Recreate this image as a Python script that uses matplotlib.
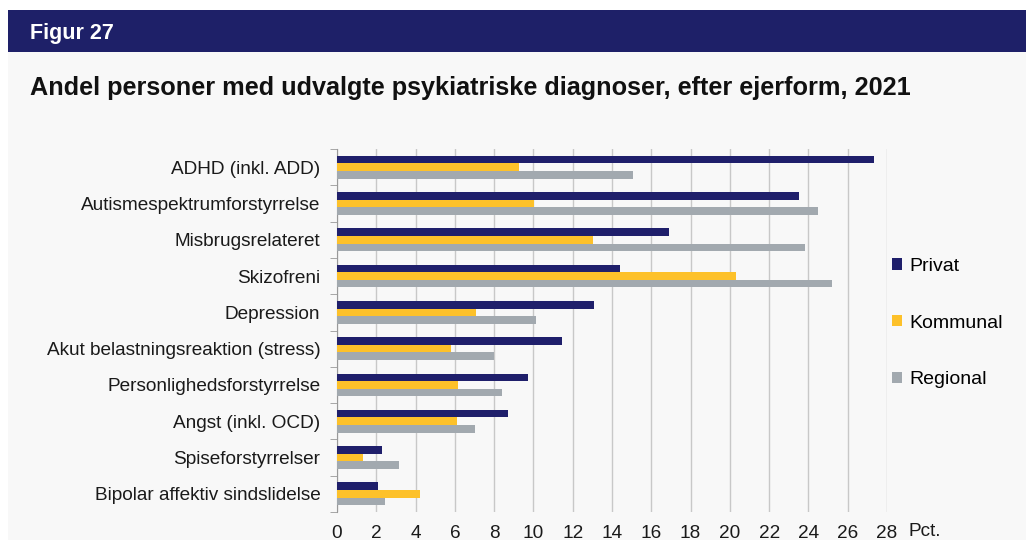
import numpy as np
import matplotlib.pyplot as plt
from matplotlib.patches import Rectangle

plt.rcParams['font.family'] = ['Liberation Sans', 'DejaVu Sans']

# Kategorier (oppefra og ned) og værdier i pct.
categories = [
    "ADHD (inkl. ADD)",
    "Autismespektrumforstyrrelse",
    "Misbrugsrelateret",
    "Skizofreni",
    "Depression",
    "Akut belastningsreaktion (stress)",
    "Personlighedsforstyrrelse",
    "Angst (inkl. OCD)",
    "Spiseforstyrrelser",
    "Bipolar affektiv sindslidelse",
]
privat = [27.35, 23.5, 16.9, 14.4, 13.1, 11.45, 9.7, 8.7, 2.3, 2.1]
kommunal = [9.25, 10.05, 13.05, 20.3, 7.1, 5.8, 6.15, 6.1, 1.3, 4.2]
regional = [15.05, 24.5, 23.8, 25.2, 10.15, 8.0, 8.4, 7.0, 3.15, 2.45]

series_names = ["Privat", "Kommunal", "Regional"]
colors = ["#1f1f6b", "#fdc12a", "#a2a9af"]

fig = plt.figure(figsize=(10.26, 5.4), dpi=100)
fig.patch.set_facecolor("white")

# Baggrund og overskriftsbjælke
fig.patches.append(Rectangle((8 / 1026, 0), 1 - 8 / 1026, 1 - 52 / 540,
                             transform=fig.transFigure, facecolor="#f8f8f8",
                             edgecolor="none", zorder=-2))
fig.patches.append(Rectangle((8 / 1026, 1 - 52 / 540), 1 - 8 / 1026, 42 / 540,
                             transform=fig.transFigure, facecolor="#1e2068",
                             edgecolor="none", zorder=-1))
fig.text(30 / 1026, 1 - 34 / 540, "Figur 27", color="white", fontsize=15.5,
         fontweight="bold", va="center", ha="left")
fig.text(30 / 1026, 1 - 88 / 540,
         "Andel personer med udvalgte psykiatriske diagnoser, efter ejerform, 2021",
         color="#111111", fontsize=18.2, fontweight="bold", va="center", ha="left")

ax = fig.add_axes([337 / 1026, 1 - 512 / 540, 550 / 1026, 363 / 540])
ax.set_facecolor("#f8f8f8")

y = np.arange(len(categories))
h = 0.21
for k, (vals, name, col) in enumerate(zip([privat, kommunal, regional], series_names, colors)):
    ax.barh(y + (k - 1) * h, vals, height=h, color=col, label=name, zorder=3)

ax.set_xlim(0, 28)
ax.set_ylim(len(categories) - 0.5, -0.5)
ax.set_xticks(np.arange(0, 29, 2))
ax.grid(axis="x", color="#c8c8c8", linewidth=1, zorder=0)

ax.set_yticks(y)
ax.set_yticklabels(categories, fontsize=13.7, color="#1a1a1a")
ax.set_yticks(np.arange(-0.5, len(categories), 1), minor=True)
ax.tick_params(axis="y", which="major", length=0, pad=12)
ax.tick_params(axis="y", which="minor", length=5, color="#999999")
ax.tick_params(axis="x", length=0, labelsize=13.7, labelcolor="#1a1a1a", pad=9)

for s in ["top", "right", "bottom"]:
    ax.spines[s].set_visible(False)
ax.spines["left"].set_color("#999999")

fig.text(925 / 1026, 1 - 531 / 540, "Pct.", fontsize=13.7, color="#1a1a1a",
         va="center", ha="center")

ax.legend(loc="center left", bbox_to_anchor=(882 / 1026, 1 - 323 / 540),
          bbox_transform=fig.transFigure, frameon=False, fontsize=14,
          handlelength=0.55, handleheight=0.55, handletextpad=0.35,
          labelspacing=2.05, borderpad=0)

plt.savefig("out.png", dpi=100, facecolor=fig.get_facecolor())
